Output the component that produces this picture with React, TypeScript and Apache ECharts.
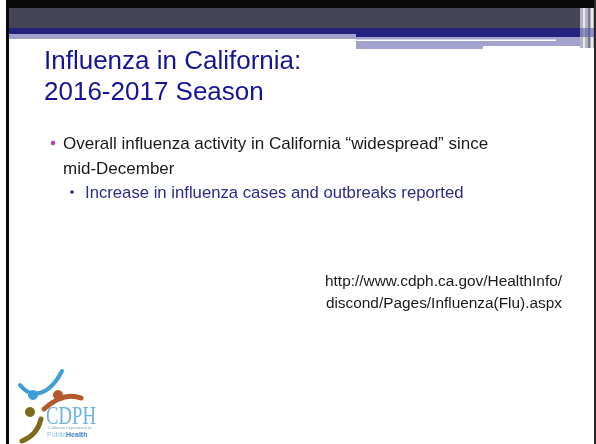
import React, { useEffect, useRef } from "react";
import * as echarts from "echarts";

const titleLines = ["Influenza in California:", "2016-2017 Season"];
const bulletLines = ["Overall influenza activity in California \u201cwidespread\u201d since", "mid-December"];
const subBulletLines = ["Increase in influenza cases and outbreaks reported"];
const urlLines = ["http://www.cdph.ca.gov/HealthInfo/", "discond/Pages/Influenza(Flu).aspx"];
const logoText = "CDPH";
const logoSub = "California Department of";

const SANS = "'Liberation Sans', Arial, sans-serif";

export default function App() {
  const ref = useRef<HTMLDivElement>(null);
  useEffect(() => {
    if (!ref.current) return;
    const chart = echarts.init(ref.current, null, { renderer: "svg" });
    const elements: any[] = [];
    // background
    elements.push({ type: "rect", shape: { x: 0, y: 0, width: 596, height: 444 }, style: { fill: "#ffffff" } });
    // header bands
    elements.push({ type: "rect", shape: { x: 6, y: 0, width: 590, height: 8 }, style: { fill: "#0a0a0a" } });
    elements.push({ type: "rect", shape: { x: 9, y: 8, width: 585, height: 20 }, style: { fill: "#454556" } });
    elements.push({ type: "rect", shape: { x: 9, y: 28, width: 347, height: 6 }, style: { fill: "#23237f" } });
    elements.push({ type: "rect", shape: { x: 356, y: 28, width: 238, height: 9 }, style: { fill: "#23237f" } });
    elements.push({ type: "rect", shape: { x: 9, y: 34, width: 347, height: 5 }, style: { fill: "#a2a2cd" } });
    elements.push({ type: "rect", shape: { x: 356, y: 37, width: 224, height: 9 }, style: { fill: "#a2a2cd" } });
    elements.push({ type: "rect", shape: { x: 356, y: 46, width: 127, height: 3 }, style: { fill: "#a2a2cd" } });
    elements.push({ type: "rect", shape: { x: 356, y: 39.5, width: 200, height: 1.5 }, style: { fill: "#ffffff" } });
    // checker strip
    elements.push({ type: "rect", shape: { x: 580, y: 8, width: 14, height: 40 }, style: { fill: "#b4b4c0" } });
    elements.push({ type: "rect", shape: { x: 583, y: 8, width: 2, height: 40 }, style: { fill: "#e8e8ee" } });
    elements.push({ type: "rect", shape: { x: 588, y: 8, width: 2, height: 40 }, style: { fill: "#7a7a88" } });
    elements.push({ type: "rect", shape: { x: 591, y: 8, width: 2, height: 40 }, style: { fill: "#e8e8ee" } });
    elements.push({ type: "rect", shape: { x: 580, y: 28, width: 14, height: 9 }, style: { fill: "#5a5aa8", opacity: 0.6 } });
    // borders
    elements.push({ type: "rect", shape: { x: 6, y: 0, width: 3, height: 444 }, style: { fill: "#0a0a0a" } });
    elements.push({ type: "rect", shape: { x: 594, y: 0, width: 2, height: 444 }, style: { fill: "#2a2a2a" } });

    // title
    titleLines.forEach((t, i) => {
      elements.push({
        type: "text", x: 44, y: 60 + i * 31,
        style: { text: t, fill: "#14149a", font: `26px ${SANS}`, verticalAlign: "middle", align: "left" },
      });
    });
    // bullets
    elements.push({ type: "circle", shape: { cx: 53, cy: 143, r: 2.3 }, style: { fill: "#a650aa" } });
    bulletLines.forEach((t, i) => {
      elements.push({
        type: "text", x: 63, y: 143 + i * 25,
        style: { text: t, fill: "#1a1a1a", font: `17px ${SANS}`, verticalAlign: "middle", align: "left" },
      });
    });
    elements.push({ type: "circle", shape: { cx: 72, cy: 192, r: 1.8 }, style: { fill: "#2b2b8c" } });
    subBulletLines.forEach((t, i) => {
      elements.push({
        type: "text", x: 85, y: 192 + i * 25,
        style: { text: t, fill: "#2b2b8c", font: `16.7px ${SANS}`, verticalAlign: "middle", align: "left" },
      });
    });
    // url
    urlLines.forEach((t, i) => {
      elements.push({
        type: "text", x: 562, y: 280 + i * 22,
        style: { text: t, fill: "#1a1a1a", font: `15.4px ${SANS}`, verticalAlign: "middle", align: "right" },
      });
    });

    // logo
    elements.push({ type: "bezierCurve", shape: { x1: 20, y1: 385, cpx1: 30, cpy1: 398, cpx2: 48, cpy2: 398, x2: 62, y2: 371 }, style: { stroke: "#3d9fd6", lineWidth: 4, fill: "none", lineCap: "round" } });
    elements.push({ type: "circle", shape: { cx: 33, cy: 395, r: 5 }, style: { fill: "#3d9fd6" } });
    elements.push({ type: "circle", shape: { cx: 58, cy: 395, r: 5 }, style: { fill: "#b35a2c" } });
    elements.push({ type: "bezierCurve", shape: { x1: 44, y1: 409, cpx1: 55, cpy1: 399, cpx2: 68, cpy2: 393, x2: 81, y2: 398 }, style: { stroke: "#b35a2c", lineWidth: 5, fill: "none", lineCap: "round" } });
    elements.push({ type: "circle", shape: { cx: 30, cy: 412, r: 5 }, style: { fill: "#7d6b1e" } });
    elements.push({ type: "bezierCurve", shape: { x1: 41, y1: 419, cpx1: 38, cpy1: 432, cpx2: 30, cpy2: 438, x2: 22, y2: 441 }, style: { stroke: "#7d6b1e", lineWidth: 5, fill: "none", lineCap: "round" } });
    elements.push({
      type: "text", x: 46, y: 415, scaleX: 0.72,
      style: { text: logoText, fill: "#6db3e2", font: `26px 'Liberation Serif', serif`, verticalAlign: "middle", align: "left" },
    });
    elements.push({
      type: "text", x: 48, y: 427,
      style: { text: logoSub, fill: "#8aa4b8", font: `4px ${SANS}`, verticalAlign: "middle", align: "left" },
    });
    elements.push({
      type: "text", x: 47, y: 434,
      style: {
        text: "{a|Public}{b|Health}", verticalAlign: "middle", align: "left",
        rich: {
          a: { fill: "#8cc3e6", font: `7px ${SANS}` },
          b: { fill: "#3a7fc8", font: `bold 7px ${SANS}` },
        },
      },
    });

    chart.setOption({ animation: false, graphic: { elements } });
    return () => chart.dispose();
  }, []);
  return <div ref={ref} style={{ position: "fixed", left: 0, top: 0, width: 596, height: 444 }} />;
}
